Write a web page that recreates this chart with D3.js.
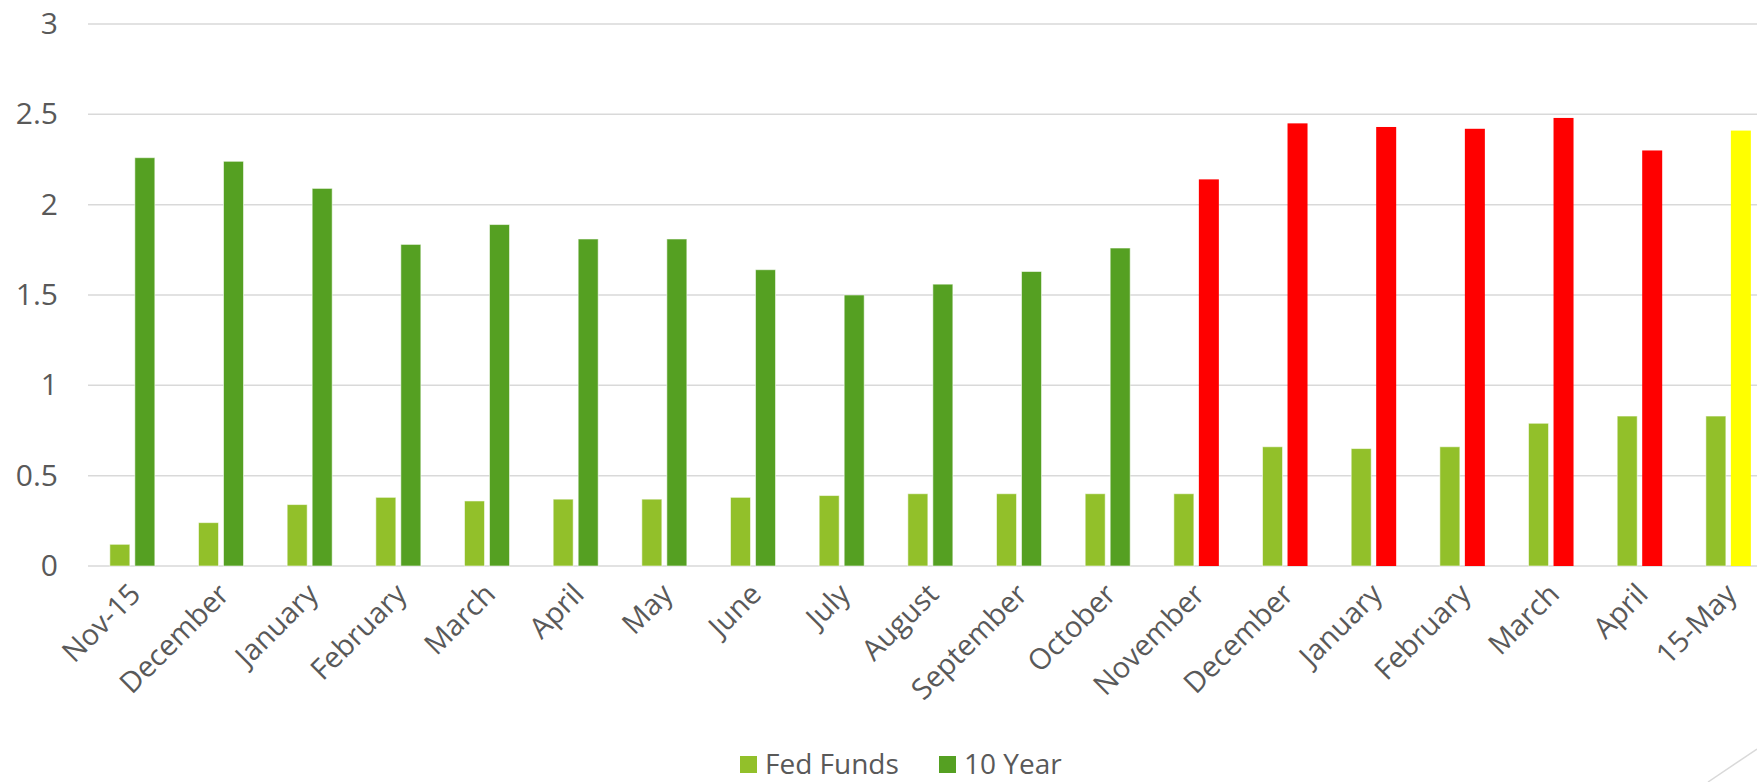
<!DOCTYPE html>
<html>
<head>
<meta charset="utf-8">
<script src="https://cdn.jsdelivr.net/npm/d3@7"></script>
<style>
  html, body { margin: 0; padding: 0; background: #fff; overflow: hidden; }
  svg { display: block; }
</style>
</head>
<body>
<svg id="chart" width="1757" height="782"></svg>
<script>
// Month labels along the x axis (Nov 2015 through mid-May 2017)
const categories = ["Nov-15", "December", "January", "February", "March", "April", "May",
  "June", "July", "August", "September", "October", "November", "December",
  "January", "February", "March", "April", "15-May"];

// Effective Fed Funds rate (%)
const fedFunds = [0.12, 0.24, 0.34, 0.38, 0.36, 0.37, 0.37, 0.38, 0.39, 0.40,
  0.40, 0.40, 0.40, 0.66, 0.65, 0.66, 0.79, 0.83, 0.83];

// 10 Year Treasury yield (%)
const tenYear = [2.26, 2.24, 2.09, 1.78, 1.89, 1.81, 1.81, 1.64, 1.50, 1.56,
  1.63, 1.76, 2.14, 2.45, 2.43, 2.42, 2.48, 2.30, 2.41];

// Period each 10 Year bar belongs to
const tenYearPeriod = ["pre", "pre", "pre", "pre", "pre", "pre", "pre", "pre", "pre", "pre",
  "pre", "pre", "post", "post", "post", "post", "post", "post", "latest"];

const yTicks = [0, 0.5, 1, 1.5, 2, 2.5, 3];
const seriesNames = ["Fed Funds", "10 Year"];

const colors = { fed: "#92C02A", ten: "#55A022" };
const periodColor = { pre: colors.ten, post: "#FF0000", latest: "#FFFF00" };
const textColor = "#595959";
const gridColor = "#D9D9D9";
const font = "'Open Sans', sans-serif";

const svg = d3.select("#chart");

const plotLeft = 88, plotRight = 1772.7, plotTop = 24, plotBottom = 566;

const x = d3.scaleBand().domain(d3.range(categories.length)).range([plotLeft, plotRight]);
const bw = x.bandwidth();
const xSub = d3.scaleBand().domain(["fed", "ten"])
  .range([bw / 2 - 22.5, bw / 2 + 22.5]).paddingInner(0.2);
const y = d3.scaleLinear().domain([0, 3]).range([plotBottom, plotTop]);

// Horizontal gridlines
svg.append("g")
  .selectAll("line")
  .data(yTicks)
  .join("line")
  .attr("x1", plotLeft).attr("x2", plotRight)
  .attr("y1", d => y(d)).attr("y2", d => y(d))
  .attr("stroke", gridColor).attr("stroke-width", 1.5);

// Y axis labels
const yAxis = svg.append("g")
  .attr("transform", `translate(${plotLeft - 30},0)`)
  .call(d3.axisLeft(y).tickValues(yTicks).tickSize(0).tickPadding(0).tickFormat(d3.format("~g")));
yAxis.select(".domain").remove();
yAxis.selectAll("text")
  .attr("fill", textColor)
  .attr("font-family", font)
  .attr("font-size", 30);

// Fed Funds bars
svg.append("g")
  .selectAll("rect")
  .data(fedFunds)
  .join("rect")
  .attr("x", (d, i) => x(i) + xSub("fed"))
  .attr("width", xSub.bandwidth())
  .attr("y", d => y(d))
  .attr("height", d => y(0) - y(d))
  .attr("fill", colors.fed)
  .attr("stroke", "rgba(255,255,255,0.55)")
  .attr("stroke-width", 1);

// 10 Year bars
svg.append("g")
  .selectAll("rect")
  .data(tenYear)
  .join("rect")
  .attr("x", (d, i) => x(i) + xSub("ten"))
  .attr("width", xSub.bandwidth())
  .attr("y", d => y(d))
  .attr("height", d => y(0) - y(d))
  .attr("fill", (d, i) => periodColor[tenYearPeriod[i]])
  .attr("stroke", (d, i) => tenYearPeriod[i] === "pre" ? "rgba(255,255,255,0.55)" : "none")
  .attr("stroke-width", 1);

// Rotated category labels
svg.append("g")
  .selectAll("text")
  .data(categories)
  .join("text")
  .attr("transform", (d, i) => `translate(${x(i) + bw / 2 + 10},${plotBottom + 30}) rotate(-45)`)
  .attr("text-anchor", "end")
  .attr("fill", textColor)
  .attr("font-family", font)
  .attr("font-size", 29)
  .text(d => d);

// Legend
const legendItems = [
  { name: seriesNames[0], color: colors.fed, x: 740, tx: 765 },
  { name: seriesNames[1], color: colors.ten, x: 939, tx: 964 }
];
const legend = svg.append("g");
legend.selectAll("rect")
  .data(legendItems)
  .join("rect")
  .attr("x", d => d.x).attr("y", 756)
  .attr("width", 17).attr("height", 17)
  .attr("fill", d => d.color);
legend.selectAll("text")
  .data(legendItems)
  .join("text")
  .attr("x", d => d.tx).attr("y", 774)
  .attr("fill", textColor)
  .attr("font-family", font)
  .attr("font-size", 28)
  .text(d => d.name);

// Corner rule
svg.append("line")
  .attr("x1", 1708).attr("y1", 782).attr("x2", 1757).attr("y2", 749)
  .attr("stroke", gridColor).attr("stroke-width", 1.5);
</script>
</body>
</html>
